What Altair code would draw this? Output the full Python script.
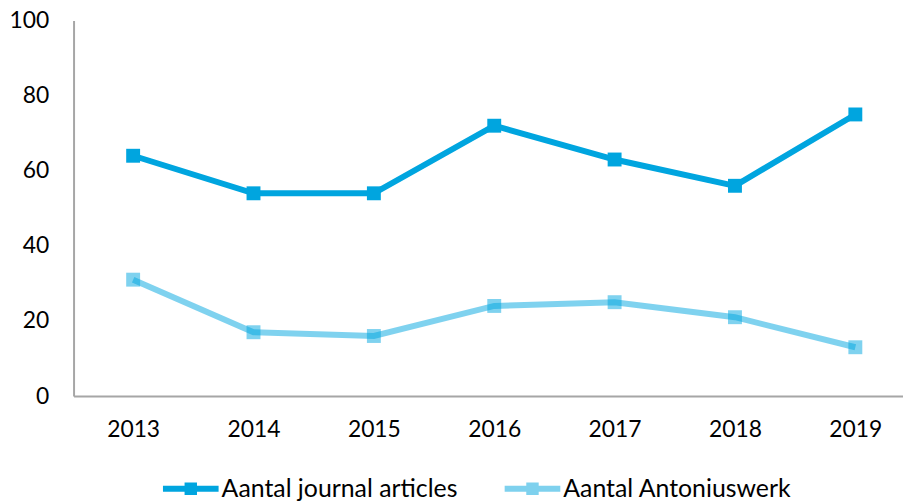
import altair as alt
import pandas as pd

years = [2013, 2014, 2015, 2016, 2017, 2018, 2019]
journal = [64, 54, 54, 72, 63, 56, 75]
antonius = [31, 17, 16, 24, 25, 21, 13]
series_names = ["Aantal journal articles", "Aantal Antoniuswerk"]
colors = ["#00A5DF", "#00A5DF"]
opacities = [1.0, 0.5]
y_ticks = [0, 20, 40, 60, 80, 100]

rows = []
for y, a, b in zip(years, journal, antonius):
    rows.append({"year": y, "series": series_names[0], "value": a})
    rows.append({"year": y, "series": series_names[1], "value": b})
df = pd.DataFrame(rows)

FONT = "Lato"
sym = "M-1,0H1M-0.116,-0.116H0.116V0.116H-0.116Z"


def make_legend():
    return alt.Legend(title=None, orient="none", legendX=87, legendY=440,
                      direction="horizontal", symbolType=sym,
                      symbolSize=3136, symbolStrokeWidth=6,
                      labelFontSize=25, labelFont=FONT, labelLimit=0,
                      labelColor="#000000", labelOffset=0,
                      columnPadding=35)


chart = alt.Chart(df).mark_line(
    strokeWidth=6,
    point=alt.OverlayMarkDef(shape="square", size=196, filled=True),
).encode(
    x=alt.X("year:Q",
            scale=alt.Scale(domain=[2012.505, 2019.396], nice=False, zero=False),
            axis=alt.Axis(values=years, format="d", title=None, grid=False,
                          ticks=False, tickSize=0, labelPadding=23,
                          labelFontSize=23, labelFont=FONT, labelColor="#000000",
                          domainColor="#A6A6A6", domainWidth=2)),
    y=alt.Y("value:Q",
            scale=alt.Scale(domain=[0, 100], nice=False),
            axis=alt.Axis(values=y_ticks, title=None, grid=False,
                          ticks=False, tickSize=0, labelPadding=25,
                          labelFontSize=23, labelFont=FONT, labelColor="#000000",
                          domainColor="#A6A6A6", domainWidth=2)),
    color=alt.Color("series:N",
                    scale=alt.Scale(domain=series_names, range=colors),
                    sort=series_names,
                    legend=make_legend()),
    opacity=alt.Opacity("series:N",
                        scale=alt.Scale(domain=series_names, range=opacities),
                        sort=series_names,
                        legend=make_legend()),
    order="year:Q",
).properties(
    width=835, height=378,
    autosize=alt.AutoSizeParams(type="none"),
    padding={"left": 66, "top": 11, "right": 0, "bottom": 108},
).configure_view(stroke=None)

chart.save("out.html", embed_options={"renderer": "svg", "actions": False})
